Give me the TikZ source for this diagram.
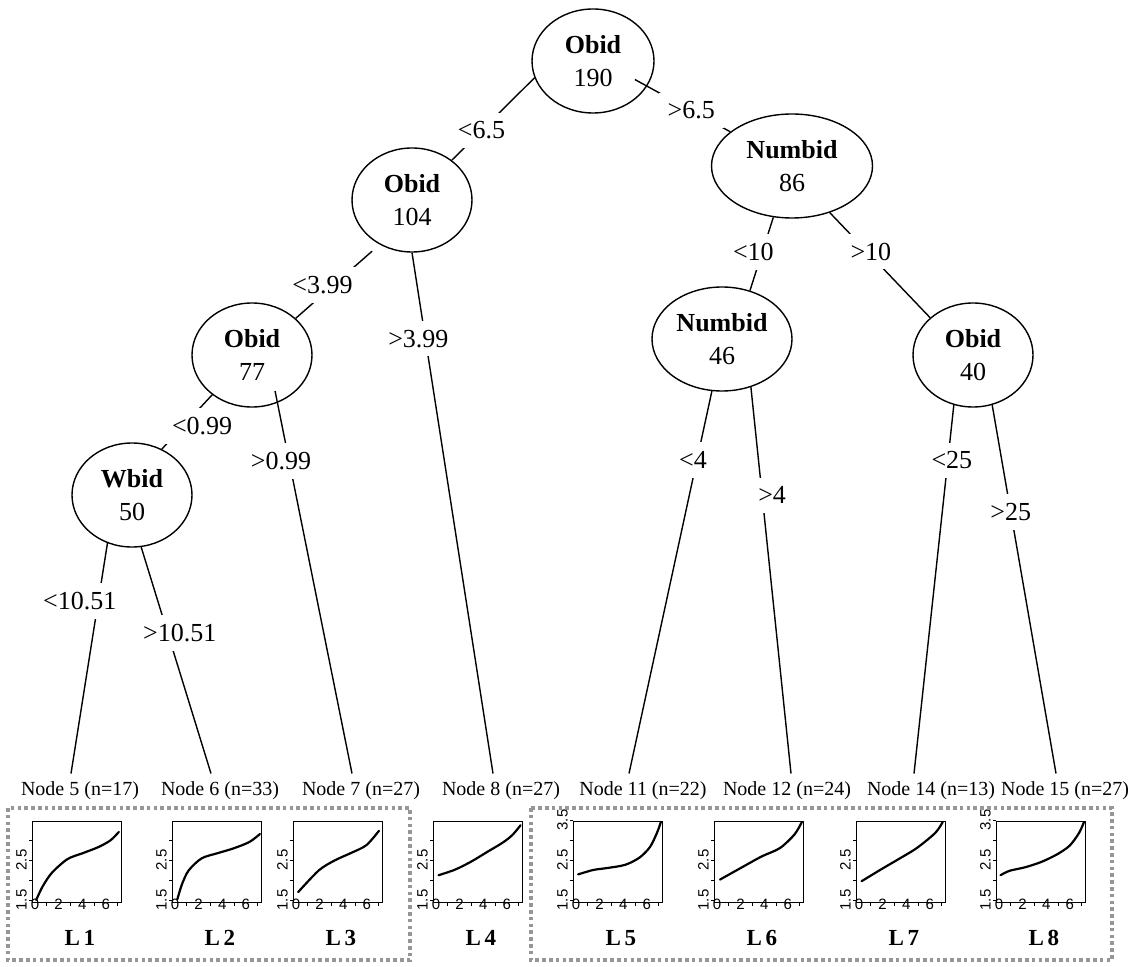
\documentclass[tikz,border=0pt]{standalone}
\usepackage{fontspec}
\setmainfont{Liberation Serif}
\setsansfont{Liberation Sans}
\usetikzlibrary{shapes.geometric}
\definecolor{boxgray}{RGB}{150,150,150}
\tikzset{
  splitnode/.style={ellipse, draw, line width=0.7pt, inner sep=0pt, minimum width=60pt,
    minimum height=52pt, align=center, font=\fontsize{13}{16.5}\selectfont},
  branch/.style={line width=0.7pt},
  cutlabel/.style={fill=white, inner sep=4.5pt, font=\fontsize{13}{15}\selectfont},
  leaflabel/.style={inner sep=4pt, font=\fontsize{10}{12}\selectfont},
  groupbox/.style={draw=boxgray, line width=1.8pt, dash pattern=on 1.8pt off 1.6pt},
  plotframe/.style={line width=0.5pt},
  fitcurve/.style={line width=1.1pt, line cap=round},
  ticklabel/.style={inner sep=0pt, font=\sffamily\fontsize{7.5}{8}\selectfont},
  grouplabel/.style={font=\bfseries\fontsize{11.5}{13}\selectfont}
}
% #1 left edge of frame, #2 name, #3 y labels, #4 curve
\newcommand{\leafplot}[4]{%
  \begin{scope}[shift={(#1+3,960)}, x=5.9pt, y=20pt]
    \draw[plotframe] (-0.25,1.45) rectangle (7.37,3.475);
    \foreach \v in {2,3,#3} \draw[plotframe] (-0.25,\v) -- ++(-0.3,0);
    \foreach \v in {#3} \node[ticklabel, rotate=90] at (-1.15,\v) {\v};
    \foreach \v in {1,3,5,7} \draw[plotframe] (\v,1.45) -- ++(0,-0.1);
    \foreach \v in {0,2,4,6} \node[ticklabel, yshift=-1pt] at (\v,1.45) {\v};
    \draw[fitcurve] plot[smooth] coordinates {#4};
    \node[grouplabel] at (3.8,0.55) {#2};
  \end{scope}}

\begin{document}
\begin{tikzpicture}[x=0.5pt, y=-0.5pt]
\useasboundingbox (0,0) rectangle (1133,967);

\node[splitnode, minimum width=61pt] (n1) at (593,61) {\textbf{Obid}\\190};
\node[splitnode] (n2) at (412,200) {\textbf{Obid}\\104};
\node[splitnode] (n3) at (252,355) {\textbf{Obid}\\77};
\node[splitnode] (n4) at (132,495) {\textbf{Wbid}\\50};
\node[splitnode, minimum width=80.5pt] (n9) at (792,166) {\textbf{Numbid}\\86};
\node[splitnode, minimum width=70pt] (n10) at (722,339) {\textbf{Numbid}\\46};
\node[splitnode] (n13) at (973,355) {\textbf{Obid}\\40};

\foreach \k/\cx/\m in {5/80/17, 6/220/33, 7/361/27, 8/501/27, 11/643/22, 12/787/24, 14/931/13, 15/1065/27}
  \node[leaflabel] (n\k) at (\cx,791) {Node \k\ (n=\m)};

\draw[branch] (n1.196) -- node[cutlabel, pos=0.64] {<6.5} (n2.45);
\draw[branch, shorten <=-7pt] (n1.-25) -- node[cutlabel, pos=0.53] {>6.5} (n9.151);
\draw[branch, shorten <=5pt] (n2.-126) -- node[cutlabel, pos=0.55, xshift=-5.5pt] {<3.99} (n3.40);
\draw[branch] (n2.-90) -- node[cutlabel, pos=0.165, xshift=-3.5pt] {>3.99} ([xshift=-4pt]n8.north);
\draw[branch] (n3.-135) -- node[cutlabel, pos=0.57, xshift=9.3pt] {<0.99} (n4.57);
\draw[branch, shorten <=-6pt] (n3.-62) -- node[cutlabel, pos=0.156, xshift=-4pt] {>0.99} ([xshift=-4.5pt]n7.north);
\draw[branch] (n4.-117) -- node[cutlabel, pos=0.25, xshift=-9.3pt] {<10.51} ([xshift=-4.5pt]n5.north);
\draw[branch] (n4.-80) -- node[cutlabel, pos=0.38, xshift=6pt] {>10.51} ([xshift=-4.5pt]n6.north);
\draw[branch] (n9.-110) -- node[cutlabel, pos=0.47, xshift=-4.5pt] {<10} (n10.60);
\draw[branch] (n9.-51) -- node[cutlabel, pos=0.37, xshift=2pt] {>10} (n13.139);
\draw[branch] (n10.-101) -- node[cutlabel, pos=0.18, xshift=-2pt] {<4} ([xshift=-7pt]n11.north);
\draw[branch] (n10.-59.5) -- node[cutlabel, pos=0.28, xshift=5pt] {>4} ([xshift=2pt]n12.north);
\draw[branch] (n13.-111) -- node[cutlabel, pos=0.15, xshift=2pt] {<25} ([xshift=-8.5pt]n14.north);
\draw[branch] (n13.-69) -- node[cutlabel, pos=0.29] {>25} ([xshift=-4.5pt]n15.north);

\leafplot{32}{L\,1}{1.5,2.5}{(0.1,1.5) (0.65,1.84) (1.43,2.18) (2.74,2.52) (4.04,2.67) (5.35,2.82) (6.39,2.99) (7.1,3.2)}
\leafplot{172}{L\,2}{1.5,2.5}{(0.2,1.52) (0.6,1.9) (1.16,2.24) (2.25,2.54) (3.6,2.67) (4.95,2.79) (6.3,2.95) (7.2,3.15)}
\leafplot{293}{L\,3}{1.5,2.5}{(0.19,1.7) (1.93,2.24) (3.28,2.49) (4.62,2.67) (5.96,2.87) (7.03,3.23)}
\leafplot{433}{L\,4}{1.5,2.5}{(0.22,2.12) (1.62,2.26) (2.98,2.46) (4.33,2.7) (5.68,2.94) (6.49,3.13) (7.17,3.37)}
\leafplot{573}{L\,5}{1.5,2.5,3.5}{(0.18,2.14) (1.45,2.25) (2.66,2.3) (4.17,2.38) (5.38,2.56) (6.28,2.83) (6.89,3.2) (7.19,3.45)}
\leafplot{714}{L\,6}{1.5,2.5}{(0.25,2.01) (2.25,2.34) (3.79,2.59) (5.34,2.8) (6.57,3.14) (7.19,3.45)}
\leafplot{856}{L\,7}{1.5,2.5}{(0.22,1.97) (1.78,2.25) (3.34,2.52) (4.9,2.8) (6.47,3.18) (7.09,3.45)}
\leafplot{996}{L\,8}{1.5,2.5,3.5}{(0.13,2.12) (0.89,2.23) (2.23,2.32) (3.57,2.45) (4.91,2.64) (5.99,2.86) (6.79,3.18) (7.2,3.45)}

\draw[groupbox] (8,808) rectangle (410,960);
\draw[groupbox] (531,808) rectangle (1112,960);
\end{tikzpicture}
\end{document}
